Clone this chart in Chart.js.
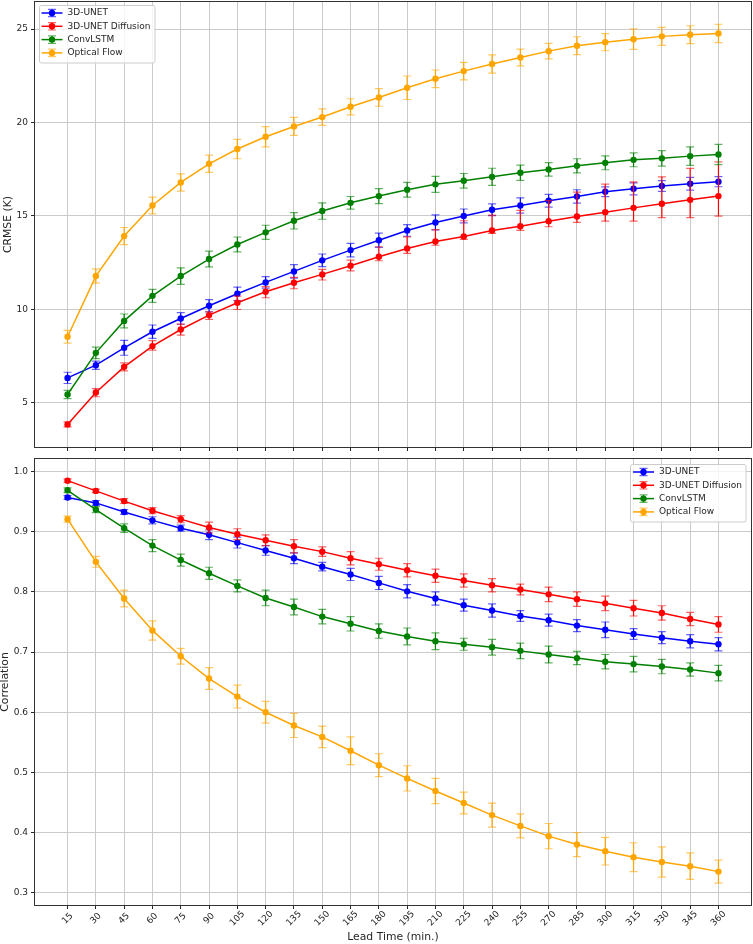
<!DOCTYPE html>
<html>
<head>
<meta charset="utf-8">
<script src="https://cdn.jsdelivr.net/npm/chart.js@4.4.0/dist/chart.umd.min.js"></script>
<style>
  body { margin: 0; background: #fff; }
  canvas { position: absolute; left: 0; }
  #crmseChart { top: 0; }
  #corrChart { top: 452px; }
</style>
</head>
<body>
<canvas id="crmseChart" width="753" height="452"></canvas>
<canvas id="corrChart" width="753" height="492"></canvas>
<script>
// lead times (min.)
const leadTimes = [15, 30, 45, 60, 75, 90, 105, 120, 135, 150, 165, 180,
                   195, 210, 225, 240, 255, 270, 285, 300, 315, 330, 345, 360];
const seriesNames = ['3D-UNET', '3D-UNET Diffusion', 'ConvLSTM', 'Optical Flow'];
const seriesColors = ['#0000ff', '#ff0000', '#008000', '#ffa500'];

const crmseTicks = [5, 10, 15, 20, 25];
const corrTicks = [0.3, 0.4, 0.5, 0.6, 0.7, 0.8, 0.9, 1.0];

// CRMSE (K)
const crmseUnet = [6.33, 7.01, 7.94, 8.80, 9.51, 10.19, 10.83, 11.44, 12.03, 12.62, 13.17, 13.70,
                   14.22, 14.65, 15.00, 15.33, 15.56, 15.81, 16.04, 16.29, 16.45, 16.60, 16.72, 16.83];
const crmseUnetErr = [0.30, 0.22, 0.40, 0.36, 0.31, 0.33, 0.36, 0.31, 0.36, 0.34, 0.36, 0.38,
                      0.31, 0.40, 0.37, 0.31, 0.41, 0.34, 0.36, 0.26, 0.32, 0.29, 0.34, 0.27];
const crmseDiff = [3.84, 5.55, 6.92, 8.03, 8.92, 9.69, 10.35, 10.94, 11.42, 11.87, 12.33, 12.81,
                   13.26, 13.63, 13.90, 14.22, 14.45, 14.72, 14.97, 15.20, 15.43, 15.65, 15.86, 16.06];
const crmseDiffErrLow = [0.13, 0.23, 0.21, 0.21, 0.30, 0.23, 0.36, 0.32, 0.32, 0.30, 0.27, 0.21,
                         0.27, 0.20, 0.16, 0.16, 0.22, 0.30, 0.32, 0.48, 0.71, 0.74, 0.95, 1.07];
const crmseDiffErrHigh = [0.13, 0.21, 0.21, 0.29, 0.29, 0.18, 0.36, 0.27, 0.29, 0.27, 0.30, 0.54,
                          0.62, 0.64, 0.84, 0.82, 0.85, 1.10, 1.30, 1.50, 1.39, 1.44, 1.68, 1.83];
const crmseLstm = [5.44, 7.67, 9.38, 10.72, 11.78, 12.69, 13.47, 14.12, 14.74, 15.26, 15.70, 16.06,
                   16.40, 16.69, 16.88, 17.09, 17.31, 17.49, 17.68, 17.84, 18.00, 18.08, 18.20, 18.29];
const crmseLstmErr = [0.22, 0.31, 0.37, 0.35, 0.44, 0.42, 0.40, 0.38, 0.44, 0.44, 0.34, 0.40,
                      0.40, 0.43, 0.39, 0.46, 0.41, 0.36, 0.38, 0.37, 0.37, 0.41, 0.50, 0.54];
const crmseFlow = [8.53, 11.78, 13.92, 15.56, 16.79, 17.79, 18.58, 19.24, 19.79, 20.29, 20.84, 21.34,
                   21.86, 22.34, 22.75, 23.13, 23.48, 23.82, 24.11, 24.30, 24.46, 24.61, 24.70, 24.77];
const crmseFlowErr = [0.34, 0.38, 0.46, 0.45, 0.46, 0.46, 0.52, 0.54, 0.48, 0.44, 0.43, 0.47,
                      0.63, 0.47, 0.47, 0.49, 0.45, 0.41, 0.48, 0.46, 0.55, 0.48, 0.48, 0.49];

// Correlation
const corrUnet = [0.957, 0.948, 0.933, 0.919, 0.906, 0.895, 0.882, 0.869, 0.856, 0.842, 0.829, 0.815,
                  0.801, 0.789, 0.778, 0.769, 0.760, 0.753, 0.744, 0.737, 0.730, 0.724, 0.718, 0.713];
const corrUnetErr = [0.003, 0.004, 0.004, 0.006, 0.005, 0.008, 0.009, 0.008, 0.009, 0.007, 0.010, 0.011,
                     0.011, 0.011, 0.010, 0.011, 0.009, 0.010, 0.010, 0.013, 0.009, 0.010, 0.011, 0.011];
const corrDiff = [0.985, 0.968, 0.951, 0.935, 0.921, 0.907, 0.896, 0.886, 0.876, 0.867, 0.856, 0.846,
                  0.836, 0.827, 0.819, 0.811, 0.804, 0.796, 0.788, 0.781, 0.773, 0.765, 0.755, 0.746];
const corrDiffErr = [0.003, 0.003, 0.004, 0.005, 0.006, 0.009, 0.009, 0.009, 0.011, 0.008, 0.011, 0.010,
                     0.011, 0.011, 0.011, 0.011, 0.009, 0.012, 0.012, 0.012, 0.013, 0.012, 0.011, 0.013];
const corrLstm = [0.969, 0.937, 0.906, 0.877, 0.853, 0.831, 0.810, 0.790, 0.775, 0.759, 0.747, 0.735,
                  0.726, 0.718, 0.713, 0.708, 0.702, 0.696, 0.690, 0.684, 0.680, 0.676, 0.671, 0.665];
const corrLstmErr = [0.004, 0.005, 0.007, 0.010, 0.010, 0.010, 0.010, 0.013, 0.013, 0.012, 0.012, 0.012,
                     0.014, 0.014, 0.010, 0.013, 0.013, 0.014, 0.011, 0.012, 0.013, 0.012, 0.011, 0.013];
const corrFlow = [0.921, 0.850, 0.789, 0.736, 0.693, 0.656, 0.626, 0.600, 0.578, 0.559, 0.536, 0.512,
                  0.490, 0.469, 0.449, 0.429, 0.411, 0.394, 0.380, 0.369, 0.359, 0.351, 0.344, 0.335];
const corrFlowErr = [0.005, 0.009, 0.014, 0.016, 0.013, 0.018, 0.019, 0.018, 0.020, 0.018, 0.023, 0.019,
                     0.021, 0.021, 0.018, 0.020, 0.020, 0.021, 0.020, 0.023, 0.024, 0.025, 0.022, 0.019];

Chart.defaults.font.family = '"DejaVu Sans", sans-serif';
Chart.defaults.font.size = 9;
Chart.defaults.color = '#262626';
Chart.defaults.animation = false;

const TEXT = '#262626';
const SPINE = '#333333';
const GRID = '#cbcbcb';
const FONT = '9px "DejaVu Sans"';

function makeDatasets(values, errLow, errHigh) {
    return seriesNames.map((name, i) => ({
        label: name,
        data: leadTimes.map((t, j) => ({ x: t, y: values[i][j] })),
        errLow: errLow[i],
        errHigh: errHigh[i],
        borderColor: seriesColors[i],
        backgroundColor: seriesColors[i],
        borderWidth: 1.5,
        pointRadius: 3.2,
        pointBorderWidth: 0,
        pointHoverRadius: 3.2,
        tension: 0,
        order: seriesNames.length - i
    }));
}

// error bars go under each series' line and markers
const errorBars = {
    id: 'errorBars',
    beforeDatasetDraw(chart, args) {
        const ds = chart.data.datasets[args.index];
        const { x, y } = chart.scales;
        const ctx = chart.ctx;
        ctx.save();
        ctx.strokeStyle = ds.borderColor;
        ctx.lineWidth = 1.2;
        ds.data.forEach((p, j) => {
            const px = x.getPixelForValue(p.x);
            const yTop = y.getPixelForValue(p.y + ds.errHigh[j]);
            const yBot = y.getPixelForValue(p.y - ds.errLow[j]);
            ctx.globalAlpha = 1;
            ctx.beginPath();
            ctx.moveTo(px, yTop);
            ctx.lineTo(px, yBot);
            ctx.stroke();
            ctx.globalAlpha = 0.6;
            ctx.beginPath();
            ctx.moveTo(px - 4, yTop); ctx.lineTo(px + 4, yTop);
            ctx.moveTo(px - 4, yBot); ctx.lineTo(px + 4, yBot);
            ctx.stroke();
        });
        ctx.restore();
    }
};

function drawLegend(chart, corner) {
    const ctx = chart.ctx;
    const area = chart.chartArea;
    ctx.save();
    ctx.font = FONT;
    const textW = Math.max(...seriesNames.map(n => ctx.measureText(n).width));
    const w = 28.5 + textW + 4;
    const h = 57.5;
    const left = corner === 'left' ? area.left + 4 : area.right - 5 - w;
    const top = area.top + (corner === 'left' ? 3 : 5);
    ctx.fillStyle = 'rgba(255,255,255,0.8)';
    ctx.strokeStyle = '#cccccc';
    ctx.lineWidth = 1;
    ctx.beginPath();
    ctx.roundRect(Math.round(left) + 0.5, Math.round(top) + 0.5, w, h, 2);
    ctx.fill();
    ctx.stroke();
    seriesNames.forEach((name, i) => {
        const yy = top + 8 + i * 13.3;
        const cx = left + 13;
        const c = seriesColors[i];
        ctx.strokeStyle = c;
        ctx.fillStyle = c;
        ctx.lineWidth = 1.5;
        ctx.beginPath();
        ctx.moveTo(left + 2.5, yy); ctx.lineTo(left + 23.5, yy);
        ctx.stroke();
        ctx.lineWidth = 1.2;
        ctx.beginPath();
        ctx.moveTo(cx, yy - 3.7); ctx.lineTo(cx, yy + 3.7);
        ctx.stroke();
        ctx.globalAlpha = 0.6;
        ctx.beginPath();
        ctx.moveTo(cx - 4, yy - 3.7); ctx.lineTo(cx + 4, yy - 3.7);
        ctx.moveTo(cx - 4, yy + 3.7); ctx.lineTo(cx + 4, yy + 3.7);
        ctx.stroke();
        ctx.globalAlpha = 1;
        ctx.beginPath();
        ctx.arc(cx, yy, 3.2, 0, Math.PI * 2);
        ctx.fill();
        ctx.fillStyle = TEXT;
        ctx.textAlign = 'left';
        ctx.textBaseline = 'middle';
        ctx.fillText(name, left + 28.5, yy);
    });
    ctx.restore();
}

function framePlugin(corner, xLabels) {
    return {
        id: 'frame',
        afterDatasetsDraw(chart) {
            const ctx = chart.ctx;
            const a = chart.chartArea;
            ctx.save();
            ctx.strokeStyle = SPINE;
            ctx.lineWidth = 1;
            const l = Math.round(a.left) - 0.5, t = Math.round(a.top) - 0.5;
            const r = Math.round(a.right) + 0.5, b = Math.round(a.bottom) + 0.5;
            ctx.strokeRect(l, t, r - l, b - t);
            ctx.restore();
            drawLegend(chart, corner);
        },
        afterDraw(chart) {
            if (!xLabels) return;
            const ctx = chart.ctx;
            const a = chart.chartArea;
            const x = chart.scales.x;
            ctx.save();
            ctx.font = FONT;
            ctx.fillStyle = TEXT;
            ctx.textAlign = 'center';
            ctx.textBaseline = 'middle';
            leadTimes.forEach(t => {
                ctx.save();
                ctx.translate(x.getPixelForValue(t), a.bottom + 13.5);
                ctx.rotate(-Math.PI / 4);
                ctx.fillText(String(t), 0, 0);
                ctx.restore();
            });
            ctx.restore();
        }
    };
}

const xMin = -2.25, xMax = 377.25;

function xScale(height, withTitle) {
    return {
        type: 'linear',
        min: xMin,
        max: xMax,
        afterBuildTicks: s => { s.ticks = leadTimes.map(v => ({ value: v })); },
        afterFit: s => { s.height = height; s.paddingLeft = 0; s.paddingRight = 0; },
        ticks: { display: false },
        grid: { color: GRID, lineWidth: 1, tickColor: TEXT, tickLength: 4 },
        border: { display: false },
        title: {
            display: withTitle,
            text: 'Lead Time (min.)',
            color: TEXT,
            font: { size: 10.8, lineHeight: 1 },
            padding: { top: 0, bottom: 1.6 }
        }
    };
}

function yScale(min, max, ticks, fmt, title, titlePad) {
    return {
        type: 'linear',
        min: min,
        max: max,
        afterBuildTicks: s => { s.ticks = ticks.map(v => ({ value: v })); },
        afterFit: s => { s.width = 35; s.paddingTop = 0; s.paddingBottom = 0; },
        ticks: { padding: 3, color: TEXT, callback: fmt },
        grid: { color: GRID, lineWidth: 1, tickColor: TEXT, tickLength: 4 },
        border: { display: false },
        title: {
            display: true,
            text: title,
            color: TEXT,
            font: { size: 10.8, lineHeight: 1 },
            padding: { top: titlePad, bottom: 0 }
        }
    };
}

new Chart(document.getElementById('crmseChart'), {
    type: 'line',
    data: {
        datasets: makeDatasets(
            [crmseUnet, crmseDiff, crmseLstm, crmseFlow],
            [crmseUnetErr, crmseDiffErrLow, crmseLstmErr, crmseFlowErr],
            [crmseUnetErr, crmseDiffErrHigh, crmseLstmErr, crmseFlowErr])
    },
    options: {
        responsive: false,
        events: [],
        layout: { padding: { left: 0, right: 2, top: 2, bottom: 0 }, autoPadding: false },
        plugins: { legend: { display: false }, tooltip: { enabled: false } },
        scales: {
            x: xScale(5, false),
            y: yScale(2.63, 26.45, crmseTicks, v => String(v), 'CRMSE (K)', 2.5)
        }
    },
    plugins: [errorBars, framePlugin('left', false)]
});

new Chart(document.getElementById('corrChart'), {
    type: 'line',
    data: {
        datasets: makeDatasets(
            [corrUnet, corrDiff, corrLstm, corrFlow],
            [corrUnetErr, corrDiffErr, corrLstmErr, corrFlowErr],
            [corrUnetErr, corrDiffErr, corrLstmErr, corrFlowErr])
    },
    options: {
        responsive: false,
        events: [],
        layout: { padding: { left: 0, right: 2, top: 7, bottom: 0 }, autoPadding: false },
        plugins: { legend: { display: false }, tooltip: { enabled: false } },
        scales: {
            x: xScale(39, true),
            y: yScale(0.2795, 1.021, corrTicks, v => v.toFixed(1), 'Correlation', 0)
        }
    },
    plugins: [errorBars, framePlugin('right', true)]
});
</script>
</body>
</html>
